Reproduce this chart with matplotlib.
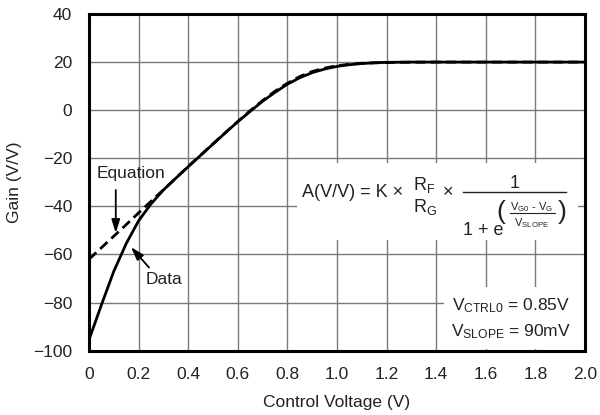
import matplotlib
matplotlib.use("Agg")
import matplotlib.pyplot as plt
from matplotlib.patches import Rectangle
from matplotlib.lines import Line2D

plt.rcParams['font.family'] = ['Liberation Sans', 'DejaVu Sans']
plt.rcParams['mathtext.fontset'] = 'custom'
plt.rcParams['mathtext.rm'] = 'Liberation Sans'
plt.rcParams['mathtext.it'] = 'Liberation Sans'
plt.rcParams['mathtext.bf'] = 'Liberation Sans:bold'

# Measured data (solid)
v_data = [0.0, 0.05, 0.10, 0.15, 0.20, 0.25, 0.30, 0.35, 0.40, 0.45, 0.50, 0.55,
          0.60, 0.65, 0.70, 0.75, 0.80, 0.85, 0.90, 0.95, 1.00, 1.05, 1.10, 1.15,
          1.20, 1.30, 1.40, 1.60, 1.80, 2.00]
gain_data = [-95.5, -81.0, -67.0, -55.5, -46.0, -39.0, -33.2, -28.3, -23.5, -18.8, -14.1, -9.4,
             -4.8, -0.5, 3.7, 7.4, 10.8, 13.5, 15.6, 17.1, 18.2, 18.9, 19.4, 19.7,
             19.9, 20.0, 20.0, 20.0, 20.0, 20.0]

# Equation (dashed)
v_eq = [0.0, 0.05, 0.10, 0.15, 0.20, 0.25, 0.30, 0.35, 0.40, 0.45, 0.50, 0.55,
        0.60, 0.65, 0.70, 0.75, 0.80, 0.85, 0.90, 0.95, 1.00, 1.05, 1.10, 1.15,
        1.20, 1.25, 1.30, 1.40, 1.60, 1.80, 2.00]
gain_eq = [-62.0, -57.2, -52.4, -47.6, -42.7, -37.9, -33.1, -28.3, -23.4, -18.7, -14.0, -9.3,
           -4.7, -0.2, 4.0, 7.9, 11.2, 14.0, 16.1, 17.5, 18.5, 19.1, 19.5, 19.7,
           19.8, 19.9, 19.95, 20.0, 20.0, 20.0, 20.0]

x_ticks = [0, 0.2, 0.4, 0.6, 0.8, 1.0, 1.2, 1.4, 1.6, 1.8, 2.0]
x_ticklabels = ['0', '0.2', '0.4', '0.6', '0.8', '1.0', '1.2', '1.4', '1.6', '1.8', '2.0']
y_ticks = [40, 20, 0, -20, -40, -60, -80, -100]
y_ticklabels = ['40', '20', '0', '\u221220', '\u221240', '\u221260', '\u221280', '\u2212100']

TXT = '#222222'
W, H = 600.0, 415.0

fig = plt.figure(figsize=(6.0, 4.15), dpi=100)
ax = fig.add_axes([0.1483, 0.155, 0.8267, 0.8113])

ax.set_xlim(0, 2.0)
ax.set_ylim(-100, 40)
ax.set_xticks(x_ticks)
ax.set_xticklabels(x_ticklabels)
ax.set_yticks(y_ticks)
ax.set_yticklabels(y_ticklabels)
ax.tick_params(length=0, labelsize=12.5, colors=TXT)
ax.tick_params(axis='x', pad=12)
ax.tick_params(axis='y', pad=12)
ax.grid(True, color='#7a7a7a', lw=1.0)
ax.set_axisbelow(True)
for s in ax.spines.values():
    s.set_linewidth(2.2)
    s.set_color('black')

ax.plot(v_data, gain_data, color='black', lw=2.0, zorder=3)
ax.plot(v_eq, gain_eq, color='black', lw=2.0, ls=(0, (3.6, 1.9)), zorder=3)

ax.set_xlabel('Control Voltage (V)', fontsize=12.5, color=TXT, labelpad=9)
ax.set_ylabel('Gain (V/V)', fontsize=12.5, color=TXT, labelpad=8)

# white boxes behind annotations
ax.add_patch(Rectangle((0.838, -54.0), 1.132, 32.0, facecolor='white', edgecolor='none', zorder=2))
ax.add_patch(Rectangle((1.43, -99.4), 0.565, 25.9, facecolor='white', edgecolor='none', zorder=2))


def P(x, y):
    return x / W, 1 - y / H


def ftext(x, y, s, size, **kw):
    fx, fy = P(x, y)
    fig.text(fx, fy, s, fontsize=size, color=TXT, zorder=6, **kw)


def fline(x0, x1, y, lw):
    a = P(x0, y)
    b = P(x1, y)
    fig.add_artist(Line2D([a[0], b[0]], [a[1], b[1]], color=TXT, lw=lw, zorder=6))


# Formula, built piece by piece
ftext(302, 197, 'A(V/V) = K \u00d7', 13, ha='left', va='baseline')
ftext(413, 190, r'R$_\mathrm{F}$', 13, ha='left', va='baseline')
ftext(413, 212, r'R$_\mathrm{G}$', 13, ha='left', va='baseline')
ftext(443, 197, '\u00d7', 13, ha='left', va='baseline')
ftext(515, 188, '1', 13, ha='center', va='baseline')
fline(463, 566, 192, 1.0)
ftext(463, 235, '1 + e', 13, ha='left', va='baseline')
ftext(496, 219, '(', 19, ha='left', va='baseline')
ftext(532, 210, r'V$_\mathrm{G0}$ - V$_\mathrm{G}$', 8, ha='center', va='baseline')
fline(510, 555, 213.5, 0.8)
ftext(532, 226, r'V$_\mathrm{SLOPE}$', 8, ha='center', va='baseline')
ftext(558, 219, ')', 19, ha='left', va='baseline')

ax.text(1.70, -81.2, r'V$_\mathrm{CTRL0}$ = 0.85V', fontsize=12.5, ha='center', va='center',
        color=TXT, zorder=4)
ax.text(1.70, -92.0, r'V$_\mathrm{SLOPE}$ = 90mV', fontsize=12.5, ha='center', va='center',
        color=TXT, zorder=4)

arrow = dict(arrowstyle='-|>,head_length=0.8,head_width=0.25', color='black', lw=1.3,
             shrinkA=0, shrinkB=0)
ax.text(0.169, -26.3, 'Equation', fontsize=12.5, color=TXT, ha='center', va='center', zorder=5)
ax.annotate('', xy=(0.108, -51.1), xytext=(0.108, -33.2), arrowprops=arrow, zorder=5)
ax.text(0.302, -70.6, 'Data', fontsize=12.5, color=TXT, ha='center', va='center', zorder=5)
ax.annotate('', xy=(0.169, -56.9), xytext=(0.242, -65.4), arrowprops=arrow, zorder=5)

fig.savefig('out.png', dpi=100)
